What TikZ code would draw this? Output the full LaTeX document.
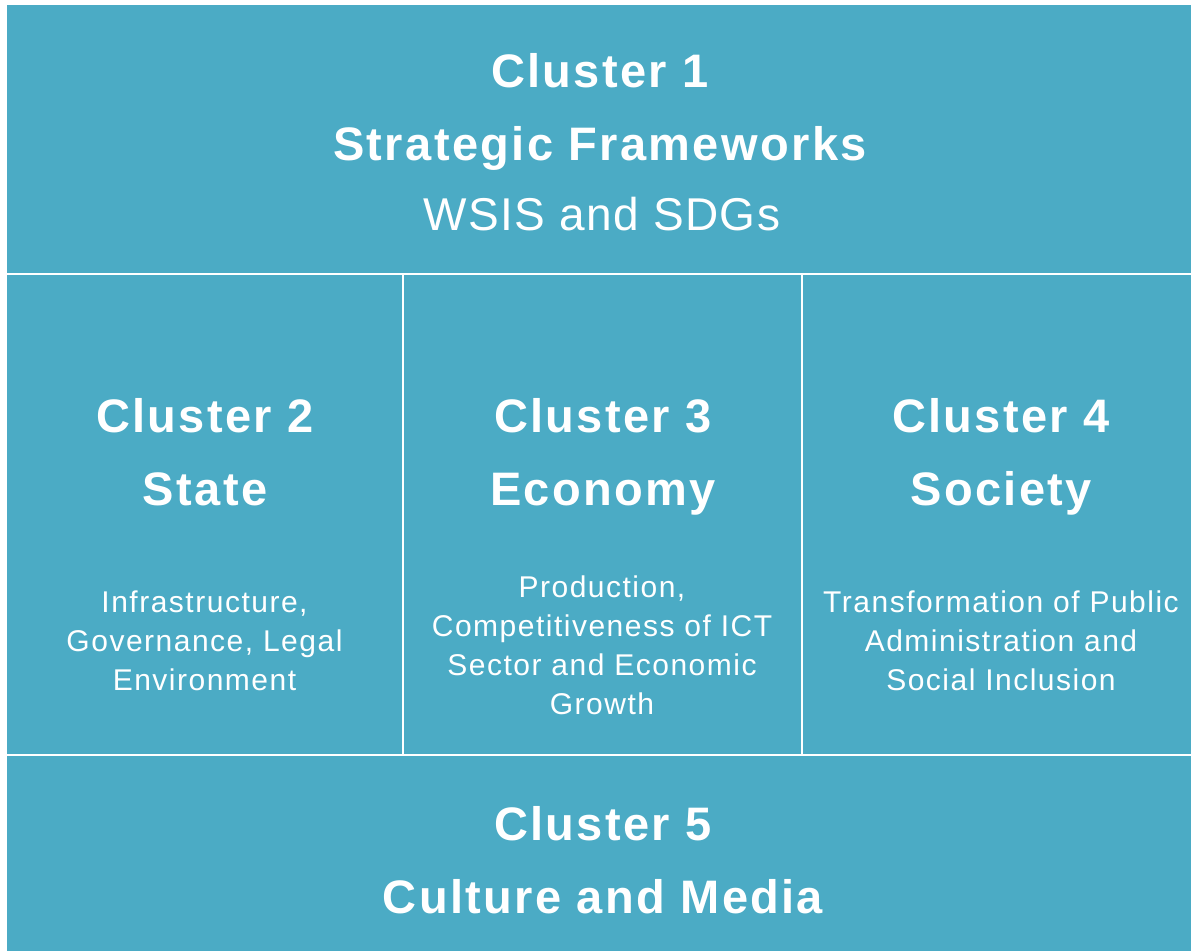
\documentclass[tikz,border=0pt]{standalone}
\usepackage{fontspec}
\setmainfont{Liberation Sans}[LetterSpace=5]
\usetikzlibrary{positioning}
\definecolor{clusterteal}{RGB}{75,171,197}

\begin{document}
\begin{tikzpicture}[
  x=1pt, y=-1pt,
  cell/.style={rectangle, fill=clusterteal, draw=none, inner sep=0pt, anchor=north west},
  head/.style={text=white, font=\fontsize{47}{73}\selectfont\bfseries, align=center, inner sep=0pt, anchor=north},
  sub/.style={text=white, font=\fontsize{46}{73}\selectfont\addfontfeatures{LetterSpace=3}, align=center, inner sep=0pt, anchor=north},
  note/.style={text=white, font=\fontsize{30}{39}\selectfont, align=center, inner sep=0pt, anchor=north}
]
\useasboundingbox (0,0) rectangle (1191,951);

% Cells
\node[cell, minimum width=1184pt, minimum height=267.5pt] (c1) at (7,5) {};
\node[cell, minimum width=395pt, minimum height=478.5pt] (c2) at (7,275) {};
\node[cell, minimum width=397pt, minimum height=478.5pt] (c3) at (403.7,275) {};
\node[cell, minimum width=388pt, minimum height=478.5pt] (c4) at (803,275) {};
\node[cell, minimum width=1184pt, minimum height=195.3pt] (c5) at (7,755.7) {};

% Texts
\node[head] (h1) at (600,53) {Cluster 1\\Strategic Frameworks};
\node[sub] (s1) at (602,197) {WSIS and SDGs};

\node[head] (h2) at (205,398) {Cluster 2\\State};
\node[note] (n2) at (204.5,591) {Infrastructure,\\Governance, Legal\\Environment};

\node[head] (h3) at (603,398) {Cluster 3\\Economy};
\node[note] (n3) at (602,576) {Production,\\Competitiveness of ICT\\Sector and Economic\\Growth};

\node[head] (h4) at (1001,398) {Cluster 4\\Society};
\node[note] (n4) at (1001,591) {Transformation of Public\\Administration and\\Social Inclusion};

\node[head] (h5) at (603,806) {Cluster 5\\Culture and Media};

\end{tikzpicture}
\end{document}
